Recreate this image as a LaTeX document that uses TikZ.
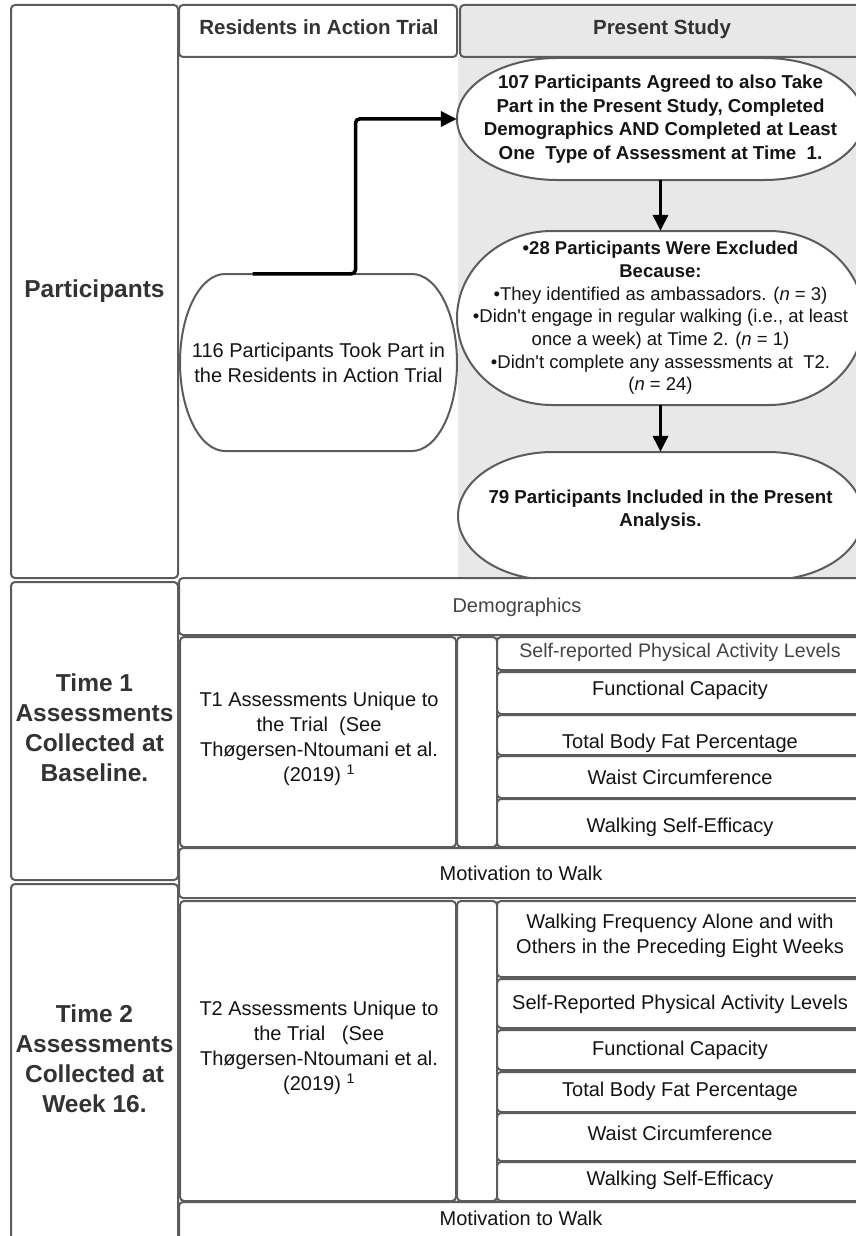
\documentclass[tikz,border=0pt]{standalone}
\usepackage{fontspec}
\setmainfont{Liberation Sans}
\usetikzlibrary{arrows.meta}
\definecolor{linec}{HTML}{5C5C5C}
\definecolor{grayfill}{HTML}{E8E8E8}
\definecolor{txtdark}{HTML}{333333}
\definecolor{txtgray}{HTML}{444444}
\definecolor{txtblack}{HTML}{141414}
\newcommand\stadshape[5]{%
  \pgfmathsetmacro\stadYm{(#2+#4)/2}%
  \pgfmathsetmacro\stadKy{0.5523*(#4-#2)/2}%
  \pgfmathsetmacro\stadKx{0.5523*#5}%
  \draw[shapeline] (#1+#5,#2) -- (#3-#5,#2)
    .. controls (#3-#5+\stadKx,#2) and (#3,\stadYm-\stadKy) .. (#3,\stadYm)
    .. controls (#3,\stadYm+\stadKy) and (#3-#5+\stadKx,#4) .. (#3-#5,#4)
    -- (#1+#5,#4)
    .. controls (#1+#5-\stadKx,#4) and (#1,\stadYm+\stadKy) .. (#1,\stadYm)
    .. controls (#1,\stadYm-\stadKy) and (#1+#5-\stadKx,#2) .. (#1+#5,#2) -- cycle;}
\begin{document}
\begin{tikzpicture}[x=1pt,y=-1pt,
  box/.style={draw=linec, line width=2pt, rounded corners=4pt, fill=white},
  shapeline/.style={draw=linec, line width=2pt, fill=white},
  shapenode/.style={inner sep=0pt, draw=none},
  lbl/.style={font=\fontsize{24.5}{30}\selectfont\bfseries, text=txtdark, align=center, inner sep=0pt},
  hdr/.style={font=\fontsize{20.5}{24}\selectfont\bfseries, text=txtdark, inner sep=0pt, anchor=base},
  txt/.style={font=\fontsize{20}{25}\selectfont, text=txtblack, align=center, inner sep=0pt},
  linetxt/.style={txt, anchor=base},
  etxt/.style={font=\fontsize{18.5}{22.7}\selectfont, text=txtblack, align=center, inner sep=0pt},
  ebold/.style={font=\fontsize{18.7}{23.5}\selectfont\bfseries, text=txtblack, align=center, inner sep=0pt},
  arr/.style={line width=3.5pt, -{Triangle[length=16pt,width=15pt]}},
]
\useasboundingbox (0,0) rectangle (856,1236);
\fill[white] (0,0) rectangle (856,1236);
\clip (0,0) rectangle (856,1236);

% ---------- Participants section ----------
\fill[grayfill] (458,57) rectangle (870,578);
\draw[box] (11,5) rectangle (178,578);
\draw[box] (179,5) rectangle (457,57);
\draw[box, fill=grayfill] (460,5) rectangle (872,57);
\node[hdr] (hres) at (319,35) {Residents in Action Trial};
\node[hdr] (hps) at (662,35) {Present Study};
\node[lbl, anchor=base] (lpart) at (94.5,297) {Participants};

\stadshape{180}{274}{457}{451}{45}
\node[shapenode, minimum width=277pt, minimum height=177pt, txt] (n116) at (318.5,362.5)
  {116 Participants Took Part in\\the Residents in Action Trial};

\stadshape{457}{58}{864}{180}{100}
\node[shapenode, minimum width=407pt, minimum height=122pt, ebold] (e1) at (660.5,119)
  {107 Participants Agreed to also Take\\Part in the Present Study, Completed\\Demographics AND Completed at Least\\One\ \ Type of Assessment at Time\ \ 1.};

\stadshape{457}{231}{864}{405}{95}
\node[shapenode, minimum width=407pt, minimum height=174pt, etxt] (e2) at (660.5,318)
  {\textbf{•28 Participants Were Excluded}\\\textbf{Because:}\\•They identified as ambassadors. (\textit{n} = 3)\\•Didn\textquotesingle t engage in regular walking (i.e., at least\\once a week) at Time 2. (\textit{n} = 1)\\•Didn\textquotesingle t complete any assessments at\ \ T2.\\(\textit{n} = 24)};

\stadshape{458}{452}{863}{580}{95}
\node[shapenode, minimum width=405pt, minimum height=128pt] (e3) at (660.5,516) {};
\node[ebold] (e3t) at (660.5,510) {79 Participants Included in the Present\\Analysis.};

\draw[arr, rounded corners=4pt] ([xshift=-66pt]n116.north) -- ++(103,0) |- (e1.west);
\draw[arr] (e1.south) -- (e2.north);
\draw[arr] (e2.south) -- (e3.north);

% ---------- Time 1 section ----------
\draw[box] (11,582) rectangle (178,880);
\node[lbl] (lt1) at (94.5,728) {Time 1\\Assessments\\Collected at\\Baseline.};
\draw[box] (179,578) rectangle (872,635);
\node[linetxt, text=txtgray] (demo) at (517,612) {Demographics};
\draw[box] (180,637) rectangle (456,847);
\node[txt] (t1u) at (319,739) {T1 Assessments Unique to\\the Trial\ \ (See\\Thøgersen-Ntoumani et al.\\(2019) \textsuperscript{1}};
\draw[box] (457,637) rectangle (497,847);
\draw[box] (497,637) rectangle (872,670);
\draw[box] (497,672) rectangle (872,714);
\draw[box] (497,715) rectangle (872,755);
\draw[box] (497,756) rectangle (872,798);
\draw[box] (497,799) rectangle (872,847);
\node[linetxt, text=txtgray, font=\fontsize{19.6}{24}\selectfont] (a1) at (680,657) {Self-reported Physical Activity Levels};
\node[linetxt] (a2) at (680,695) {Functional Capacity};
\node[linetxt] (a3) at (680,748) {Total Body Fat Percentage};
\node[linetxt] (a4) at (680,784) {Waist Circumference};
\node[linetxt] (a5) at (680,832) {Walking Self-Efficacy};
\draw[box] (179,848) rectangle (872,898);
\node[linetxt] (mot1) at (521,880) {Motivation to Walk};

% ---------- Time 2 section ----------
\draw[box] (11,884) rectangle (178,1260);
\node[lbl] (lt2) at (94.5,1059) {Time 2\\Assessments\\Collected at\\Week 16.};
\draw[box] (180,901) rectangle (456,1201);
\node[txt] (t2u) at (319,1048) {T2 Assessments Unique to\\the Trial\ \ \ (See\\Thøgersen-Ntoumani et al.\\(2019) \textsuperscript{1}};
\draw[box] (457,901) rectangle (497,1201);
\draw[box] (497,901) rectangle (872,977);
\draw[box] (497,979) rectangle (872,1028);
\draw[box] (497,1030) rectangle (872,1070);
\draw[box] (497,1072) rectangle (872,1112);
\draw[box] (497,1113) rectangle (872,1161);
\draw[box] (497,1162) rectangle (872,1201);
\node[txt] (b1) at (680,936) {Walking Frequency Alone and with\\Others in the Preceding Eight Weeks};
\node[linetxt] (b2) at (680,1009) {Self-Reported Physical Activity Levels};
\node[linetxt] (b3) at (680,1055) {Functional Capacity};
\node[linetxt] (b4) at (680,1096) {Total Body Fat Percentage};
\node[linetxt] (b5) at (680,1140) {Waist Circumference};
\node[linetxt] (b6) at (680,1185) {Walking Self-Efficacy};
\draw[box] (179,1202) rectangle (872,1260);
\node[linetxt] (mot2) at (521,1225) {Motivation to Walk};
\end{tikzpicture}
\end{document}
